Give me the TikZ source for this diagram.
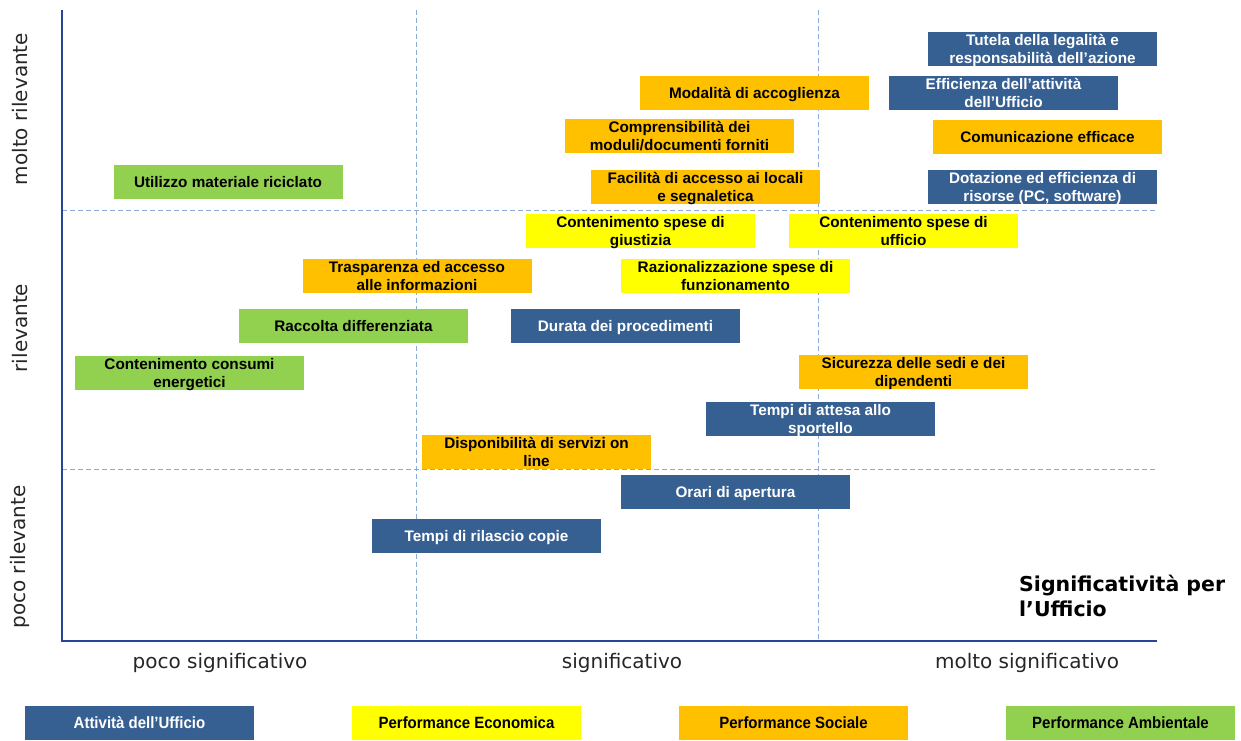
\documentclass[tikz,border=0pt]{standalone}
\usepackage{fontspec}
\setmainfont{Liberation Sans}
\newfontfamily\axisfont{DejaVu Sans}
\newfontfamily\legfont[FakeStretch=0.92]{Liberation Sans}
\newcommand\bx[1]{\raisebox{-5.3pt}[12pt][12pt]{\begin{tabular}{@{}c@{}}#1\end{tabular}}}
\definecolor{uffblue}{RGB}{55,96,146}
\definecolor{ecoyellow}{RGB}{255,255,0}
\definecolor{socorange}{RGB}{255,192,0}
\definecolor{ambgreen}{RGB}{146,208,80}
\definecolor{axisblue}{RGB}{40,70,150}
\definecolor{gridblue}{RGB}{140,170,210}
\tikzset{
  box/.style={minimum width=229pt, minimum height=34pt, inner sep=0pt, align=center,
    font=\bfseries\fontsize{15.3}{18}\selectfont},
  ufficio/.style={box, fill=uffblue, text=white},
  economica/.style={box, fill=ecoyellow, text=black},
  sociale/.style={box, fill=socorange, text=black},
  ambientale/.style={box, fill=ambgreen, text=black},
  legbox/.style={minimum width=229pt, minimum height=34pt, inner sep=0pt,
    font=\legfont\bfseries\fontsize{16.3}{18}\selectfont},
  gridline/.style={gridblue, dashed, dash pattern=on 5pt off 3pt, line width=1pt},
  axisline/.style={axisblue, line width=2.5pt},
  axislabel/.style={font=\axisfont\fontsize{20}{24}\selectfont, text=black!85},
}
\begin{document}
\begin{tikzpicture}[x=1pt,y=-1pt]
\useasboundingbox (0,0) rectangle (1241,740);
% grid lines
\coordinate (v1t) at (416,10); \coordinate (v1b) at (416,641);
\coordinate (v2t) at (818,10); \coordinate (v2b) at (818,641);
\coordinate (h1l) at (62,210); \coordinate (h1r) at (1157,210);
\coordinate (h2l) at (62,469); \coordinate (h2r) at (1157,469);
\draw[gridline] (v1t) -- (v1b);
\draw[gridline] (v2t) -- (v2b);
\draw[gridline] (h1l) -- (h1r);
\draw[gridline] (h2l) -- (h2r);
% boxes
\node[ufficio] (tutela) at (1042.5,49) {\bx{Tutela della legalità e\\responsabilità dell’azione}};
\node[ufficio] (efficienza) at (1003.5,93) {\bx{Efficienza dell'attività\\dell'Ufficio}};
\node[sociale] (comunicazione) at (1047.5,137) {\bx{Comunicazione efficace}};
\node[ufficio] (dotazione) at (1042.5,187) {\bx{Dotazione ed efficienza di\\risorse (PC, software)}};
\node[sociale] (modalita) at (754.5,93) {\bx{Modalità di accoglienza}};
\node[sociale] (comprensibilita) at (679.5,136) {\bx{Comprensibilità dei\\moduli/documenti forniti}};
\node[sociale] (facilita) at (705.5,187) {\bx{Facilità di accesso ai locali\\e segnaletica}};
\node[ambientale] (riciclato) at (228,182) {\bx{Utilizzo materiale riciclato}};
\node[economica] (giustizia) at (640.5,231) {\bx{Contenimento spese di\\giustizia}};
\node[economica] (ufficio) at (903.5,231) {\bx{Contenimento spese di\\ufficio}};
\node[sociale] (trasparenza) at (417,276) {\bx{Trasparenza ed accesso\\alle informazioni}};
\node[economica] (razionalizzazione) at (735.5,276) {\bx{Razionalizzazione spese di\\funzionamento}};
\node[ambientale] (raccolta) at (353.5,326) {\bx{Raccolta differenziata}};
\node[ufficio] (durata) at (625.5,326) {\bx{Durata dei procedimenti}};
\node[ambientale] (energetici) at (189.5,373) {\bx{Contenimento consumi\\energetici}};
\node[sociale] (sicurezza) at (913.5,372) {\bx{Sicurezza delle sedi e dei\\dipendenti}};
\node[ufficio] (attesa) at (820.5,419) {\bx{Tempi di attesa allo\\sportello}};
\node[sociale] (disponibilita) at (536.5,452) {\bx{Disponibilità di servizi on\\line}};
\node[ufficio] (orari) at (735.5,492) {\bx{Orari di apertura}};
\node[ufficio] (rilascio) at (486.5,536) {\bx{Tempi di rilascio copie}};
% axes
\coordinate (origin) at (62,641);
\coordinate (ytop) at (62,10);
\coordinate (xend) at (1157,641);
\draw[axisline] (ytop) -- (origin) -- (xend);
% axis labels
\node[axislabel, rotate=90] (molto) at (20,109) {molto rilevante};
\node[axislabel, rotate=90] (ril) at (20,328) {rilevante};
\node[axislabel, rotate=90] (poco) at (20,557) {poco rilevante};
\node[axislabel] (pocosig) at (220,663) {poco significativo};
\node[axislabel] (sig) at (622,663) {significativo};
\node[axislabel] (moltosig) at (1027,663) {molto significativo};
\node[font=\axisfont\bfseries\fontsize{20.5}{25}\selectfont, align=left, anchor=north west, inner sep=0pt] (titolo) at (1019,575) {Significatività per\\l’Ufficio};
% legend
\node[legbox, fill=uffblue, text=white] (leg1) at (139.5,723) {Attività dell’Ufficio};
\node[legbox, fill=ecoyellow] (leg2) at (466.5,723) {Performance Economica};
\node[legbox, fill=socorange] (leg3) at (793.5,723) {Performance Sociale};
\node[legbox, fill=ambgreen] (leg4) at (1120.5,723) {Performance Ambientale};
\end{tikzpicture}
\end{document}
